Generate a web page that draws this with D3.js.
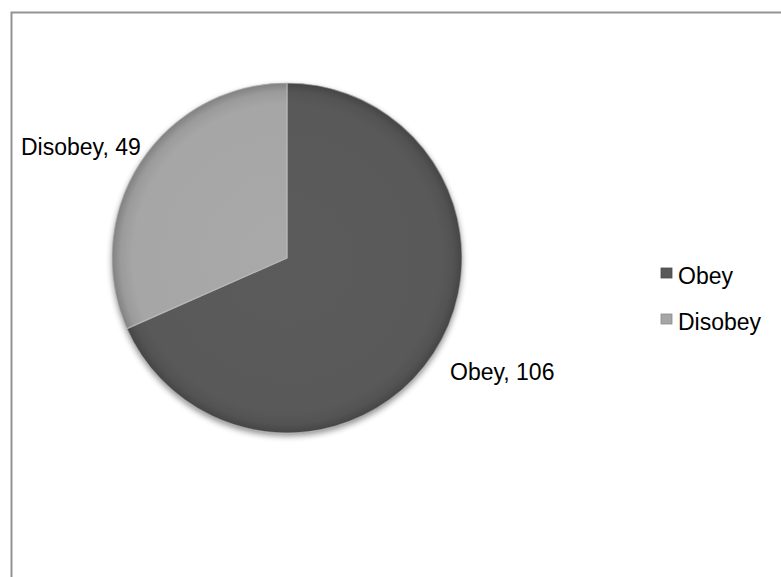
<!DOCTYPE html>
<html>
<head>
<meta charset="utf-8">
<script src="https://cdn.jsdelivr.net/npm/d3@7"></script>
<style>
  body { margin: 0; background: #fff; }
  text { font-family: "Liberation Sans", Arial, sans-serif; fill: #000; }
</style>
</head>
<body>
<div id="chart"></div>
<script>
// data
var categories = ["Obey", "Disobey"];
var values = [106, 49];
var sliceColors = ["#595959", "#a6a6a6"];

var W = 781, H = 577;
var cx = 287, cy = 258, radius = 175;

var svg = d3.select("#chart").append("svg")
    .attr("width", W)
    .attr("height", H);

var defs = svg.append("defs");

// soft shadow under the pie
var shadow = defs.append("filter").attr("id", "shadow")
    .attr("x", "-20%").attr("y", "-20%").attr("width", "140%").attr("height", "140%");
shadow.append("feGaussianBlur").attr("in", "SourceAlpha").attr("stdDeviation", 3);
shadow.append("feOffset").attr("dx", 0).attr("dy", 3).attr("result", "blur");
shadow.append("feComponentTransfer").append("feFuncA").attr("type", "linear").attr("slope", 0.45);
var merge = shadow.append("feMerge");
merge.append("feMergeNode");
merge.append("feMergeNode").attr("in", "SourceGraphic");

// bevel-ish radial gradients
categories.forEach(function (c, i) {
    var base = d3.color(sliceColors[i]);
    var g = defs.append("radialGradient").attr("id", "grad" + i)
        .attr("gradientUnits", "userSpaceOnUse")
        .attr("cx", 0).attr("cy", 0).attr("r", radius);
    g.append("stop").attr("offset", "0%").attr("stop-color", base.brighter(0.05));
    g.append("stop").attr("offset", "88%").attr("stop-color", base);
    g.append("stop").attr("offset", "95%").attr("stop-color", base.darker(0.2));
    g.append("stop").attr("offset", "100%").attr("stop-color", base.darker(0.7));
});

// chart area border
svg.append("rect")
    .attr("x", 11.5).attr("y", 12.5)
    .attr("width", W + 20).attr("height", H + 20)
    .attr("fill", "none")
    .attr("stroke", "#939393")
    .attr("stroke-width", 2);

var pie = d3.pie().sort(null).value(function (d) { return d; });
var arcs = pie(values);
var arc = d3.arc().innerRadius(0).outerRadius(radius);

var g = svg.append("g").attr("transform", "translate(" + cx + "," + cy + ")");

g.append("circle").attr("r", radius).attr("fill", "#555").attr("filter", "url(#shadow)");

g.selectAll("path.slice")
    .data(arcs)
  .enter().append("path")
    .attr("class", "slice")
    .attr("d", arc)
    .attr("fill", function (d, i) { return "url(#grad" + i + ")"; })
    .attr("stroke", "#c8c8c8")
    .attr("stroke-opacity", 0.6)
    .attr("stroke-width", 1.2)
    .attr("stroke-linejoin", "round");

// data labels
var labelPos = [[450, 380], [21, 155]];
svg.selectAll("text.dlabel")
    .data(arcs)
  .enter().append("text")
    .attr("class", "dlabel")
    .attr("x", function (d, i) { return labelPos[i][0]; })
    .attr("y", function (d, i) { return labelPos[i][1]; })
    .style("font-size", "23px")
    .text(function (d, i) { return categories[i] + ", " + d.value; });

// legend
var legend = svg.selectAll("g.legend")
    .data(categories)
  .enter().append("g")
    .attr("class", "legend")
    .attr("transform", function (d, i) { return "translate(661," + (268 + i * 46) + ")"; });

legend.append("rect")
    .attr("width", 11).attr("height", 10)
    .attr("fill", function (d, i) { return sliceColors[i]; })
    .attr("stroke", function (d, i) { return d3.color(sliceColors[i]).darker(0.5); })
    .attr("stroke-width", 0.8);

legend.append("text")
    .attr("x", 17)
    .attr("y", 16)
    .style("font-size", "23px")
    .text(function (d) { return d; });
</script>
</body>
</html>
